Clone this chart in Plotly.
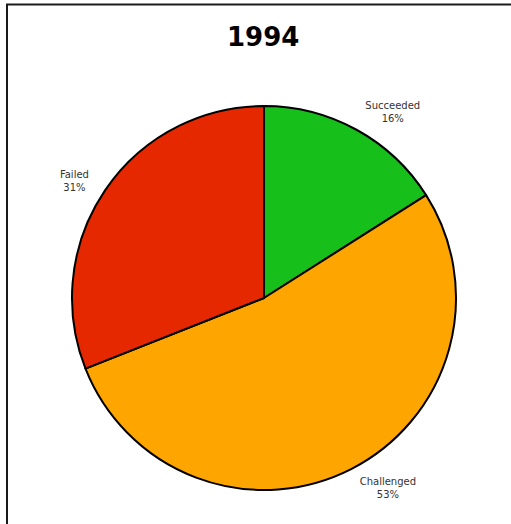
import plotly.graph_objects as go

labels = ["Succeeded", "Challenged", "Failed"]
values = [16, 53, 31]
colors = ["#17BF1B", "#FFA500", "#E62800"]
title_text = "1994"

W, H = 511, 524
cx, cy, r = 264, 298, 192
rl = r + 10  # radius of the label ring


def dom(c_x, c_y, rad):
    return dict(x=[(c_x - rad) / W, (c_x + rad) / W],
                y=[(H - c_y - rad) / H, (H - c_y + rad) / H])


fig = go.Figure()
# visible pie
fig.add_trace(go.Pie(
    labels=labels,
    values=values,
    sort=False,
    direction="clockwise",
    rotation=0,
    marker=dict(colors=colors, line=dict(color="#000000", width=2)),
    textinfo="none",
    showlegend=False,
    hoverinfo="label+percent",
    domain=dom(cx, cy, r),
))
# transparent ring that only carries the outside labels
fig.add_trace(go.Pie(
    labels=labels,
    values=values,
    sort=False,
    direction="clockwise",
    rotation=0,
    marker=dict(colors=["rgba(0,0,0,0)"] * len(values),
                line=dict(color="rgba(0,0,0,0)", width=0)),
    textinfo="label+percent",
    textposition="outside",
    textfont=dict(family="DejaVu Sans", size=10, color="#333333"),
    showlegend=False,
    hoverinfo="skip",
    domain=dom(cx - 2, cy, rl),
))

fig.update_layout(
    width=W, height=H,
    margin=dict(l=0, r=0, t=0, b=0),
    paper_bgcolor="#FFFFFF",
    plot_bgcolor="#FFFFFF",
    annotations=[dict(
        text="<b>" + title_text + "</b>",
        x=263 / W, y=1 - 37 / H, xref="paper", yref="paper",
        xanchor="center", yanchor="middle", showarrow=False,
        font=dict(family="DejaVu Sans", size=26, color="#000000"),
    )],
    shapes=[dict(
        type="rect", xref="paper", yref="paper",
        x0=7 / W, x1=1.2, y0=-0.2, y1=1 - 4.5 / H,
        line=dict(color="#1a1a1a", width=2),
    )],
)

fig.write_html("out.html")
